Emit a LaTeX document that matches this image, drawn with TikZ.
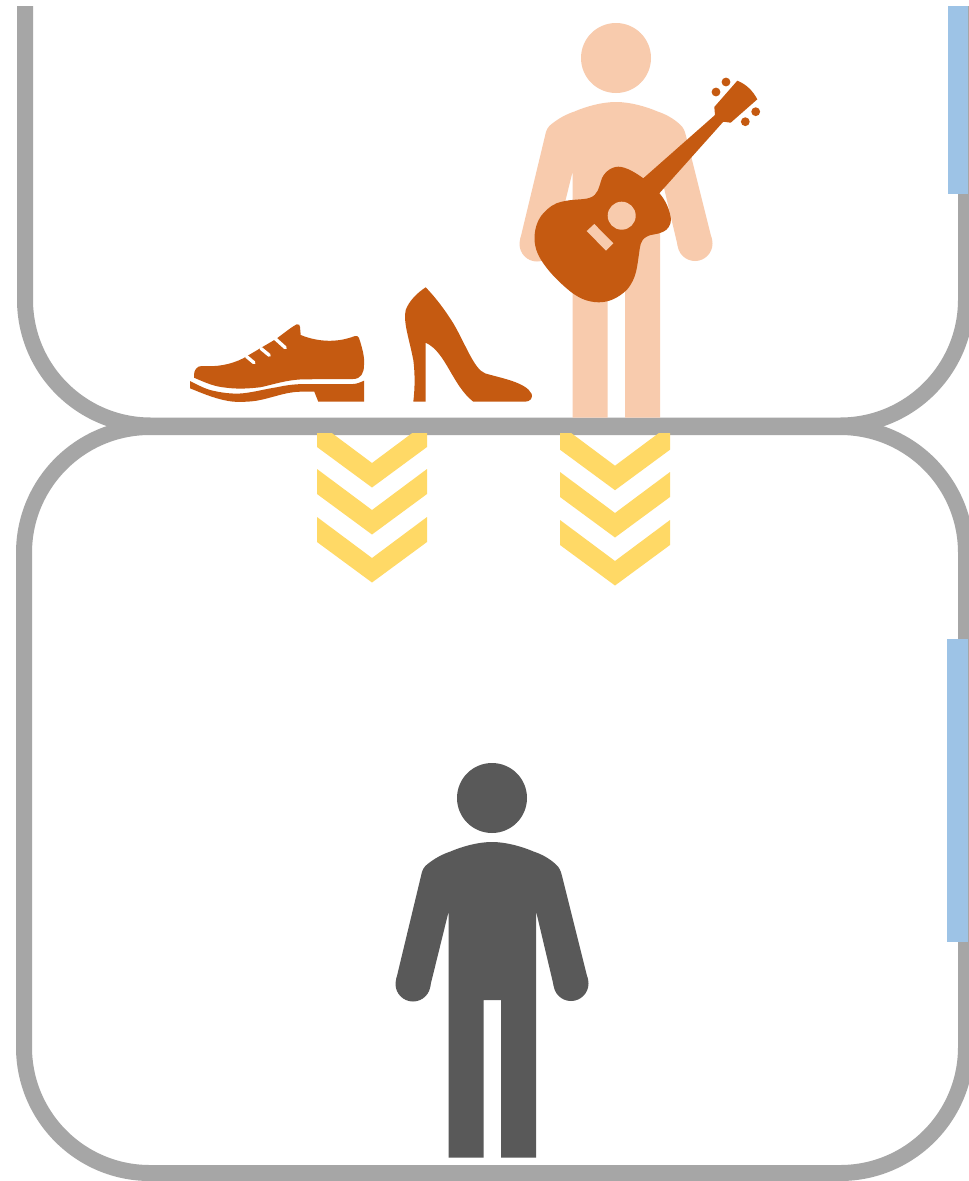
\documentclass[tikz,border=0pt]{standalone}
\usepackage{xcolor}
\definecolor{framegray}{HTML}{A6A6A6}
\definecolor{tabblue}{HTML}{9DC3E6}
\definecolor{chevyellow}{HTML}{FFD966}
\definecolor{itemorange}{HTML}{C55A11}
\definecolor{peach}{HTML}{F8CBAD}
\definecolor{darkperson}{HTML}{595959}
\newcommand{\personshape}[1]{%
  \fill[#1] (492,798) circle (35);
  \fill[#1] (413,984) circle (17.5);
  \fill[#1] (571,983.5) circle (17.5);
  \fill[#1] (421,876) .. controls (422,870) and (424,867) .. (427,864.5)
    .. controls (435,858) and (443,854) .. (450,851.7)
    .. controls (462,846.5) and (478,842) .. (492,842)
    .. controls (506,842) and (522,846.5) .. (534,851.7)
    .. controls (541,854) and (549,858) .. (556,864.5)
    .. controls (559,867) and (561,871) .. (562,876)
    -- (588,980) -- (554,987)
    -- (536,911) -- (536,1157.5) -- (501,1157.5) -- (501,1000) -- (483.5,1000) -- (483.5,1157.5) -- (448.5,1157.5) -- (448.5,912)
    -- (430,987) -- (396,980) -- cycle;
}
\newcommand{\chevronshape}[2]{%
  \fill[chevyellow] (#1-55,#2) -- (#1,#2+41) -- (#1+55,#2) -- (#1+55,#2+25) -- (#1,#2+65.5) -- (#1-55,#2+25) -- cycle;
}
\begin{document}
\begin{tikzpicture}[
    x=0.6pt, y=-0.6pt,
    frameline/.style={draw=framegray, line width=9.6pt, rounded corners=75.5pt},
    tab/.style={fill=tabblue},
    item/.style={fill=itemorange},
    lace/.style={draw=white, line width=2pt, line cap=round}
]
\useasboundingbox[fill=white] (0,0) rectangle (968,1181);

% Frames
\draw[frameline] (24,427) rectangle (966,1173);
\draw[frameline] (25,6) -- (25,425.5) -- (966,425.5) -- (966,6);

% Side tabs
\fill[tab] (948,6) rectangle (968,193.5);
\fill[tab] (947,639) rectangle (968,942);

% Chevrons
\begin{scope}
\clip (300,433) rectangle (700,600);
\foreach \cy in {422,469,517} {\chevronshape{372}{\cy}}
\foreach \cy in {424.7,472,520} {\chevronshape{615}{\cy}}
\end{scope}

% People
\personshape{darkperson}
\begin{scope}
\clip (500,0) rectangle (800,417.5);
\begin{scope}[shift={(124,-740)}]
\personshape{peach}
\end{scope}
\end{scope}

% Guitar
\path[item] (643.3,178.3) -- (715,115) -- (714.3,107) -- (737.3,80.7)
  .. controls (746,84) and (753,91) .. (757.3,99.3)
  -- (730.7,122.7) -- (723.3,121.7) -- (659.3,193.3)
  .. controls (664,198) and (670,209) .. (671,219.3)
  .. controls (671,226) and (667,230) .. (663.3,231.7)
  .. controls (657,235) and (650,234) .. (646.7,236.7)
  .. controls (640,240) and (640,247) .. (639,254)
  .. controls (637,266) and (637,278) .. (626.7,290)
  .. controls (618,298) and (609,302.5) .. (598.3,302.3)
  .. controls (587,302) and (579,298) .. (571,292)
  .. controls (561,284) and (552,275) .. (546,267)
  .. controls (539,258) and (534.5,249) .. (534.5,238.3)
  .. controls (534.5,228) and (538,219) .. (543.3,213.3)
  .. controls (549,207) and (555,203) .. (561.7,201.7)
  .. controls (572,199) and (584,200) .. (590,197.7)
  .. controls (598,195) and (599,187) .. (601,181)
  .. controls (603,173) and (611,166.7) .. (618.3,166.7)
  .. controls (626,166.7) and (636,173) .. (643.3,178.3) -- cycle;
\fill[peach] (621.7,215.7) circle (14);
\fill[peach] (594.3,224) -- (613.3,243.3) -- (606,250.7) -- (586.7,231) -- cycle;
\foreach \px/\py in {716/92, 726/82, 755.7/111.7, 745.3/121.7} {\fill[item] (\px,\py) circle (4.4);}

% Shoe
\path[item] (194,375) .. controls (194,370) and (197,366) .. (201.7,366)
  .. controls (216,367) and (230,365) .. (243.3,358.3)
  -- (276,339) .. controls (283,334) and (290,328) .. (296.7,324.3)
  .. controls (299,324) and (300,325) .. (300,327) -- (300.7,335)
  .. controls (318,342) and (337,343) .. (355,336)
  .. controls (357,336) and (358,336) .. (359,338)
  .. controls (362,347) and (365,358) .. (364,365)
  .. controls (364,373) and (361,379) .. (353,379)
  -- (303,379.3) .. controls (285,380) and (272,385) .. (260,387.3)
  .. controls (245,389) and (235,389) .. (223,387.3)
  .. controls (212,386) and (202,381) .. (194,377.7) -- cycle;
\draw[lace] (246.5,356.5) -- (254,362.7);
\draw[lace] (261,348.5) -- (269.3,355.3);
\draw[lace] (275,338.5) -- (285.3,347.7);
\path[item] (190,381) .. controls (198,385) and (205,389) .. (213,390.7)
  .. controls (225,393.5) and (235,394) .. (243,393.3)
  .. controls (255,392) and (265,389) .. (276.7,387.3)
  .. controls (287,385) and (296,384) .. (306.7,384)
  -- (353,384) .. controls (357,384) and (361,382) .. (364,380.7)
  -- (364,401.7) -- (318.3,401.7) -- (314.3,391.7) -- (300,391.7)
  .. controls (285,392) and (272,398) .. (256.7,400.7)
  .. controls (248,402) and (240,402) .. (233.3,401.7)
  .. controls (218,400) and (204,394) .. (190,388.3) -- cycle;

% High heel
\path[item] (425.7,287.3) .. controls (417,293) and (409,301) .. (405.7,310)
  .. controls (403,322) and (409,338) .. (413.3,360)
  .. controls (415,373) and (415,388) .. (413.3,401.7)
  -- (425.7,401.7) -- (425.7,342.7)
  .. controls (446,352) and (452,385) .. (473.3,401.7)
  -- (525,401.7) .. controls (530,401.7) and (533,398) .. (531.7,394)
  .. controls (526,382) and (500,378) .. (485,373.3)
  .. controls (474,369) and (466,345) .. (453.3,323.3)
  .. controls (445,310) and (436,298) .. (425.7,287.3) -- cycle;

\end{tikzpicture}
\end{document}
